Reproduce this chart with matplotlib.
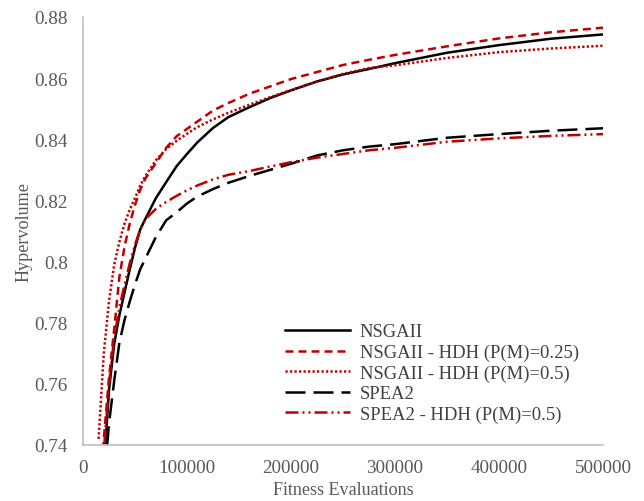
import matplotlib
matplotlib.use("Agg")
from matplotlib import pyplot as plt

# fitness evaluations (shared x grid)
evals = [15000, 20000, 25000, 30000, 35000, 40000, 45000, 50000, 55000, 60000,
         70000, 80000, 90000, 100000, 110000, 125000, 140000, 160000, 180000, 200000,
         225000, 250000, 275000, 300000, 350000, 400000, 450000, 500000]

nsgaii = [0.700, 0.732, 0.758, 0.773, 0.7825, 0.790, 0.7975, 0.8045, 0.8105, 0.814,
          0.8207, 0.826, 0.8312, 0.8352, 0.839, 0.8437, 0.8473, 0.8505, 0.8535, 0.856,
          0.8589, 0.8612, 0.863, 0.8649, 0.8683, 0.8708, 0.8729, 0.8743]
nsgaii_hdh_025 = [0.715, 0.742, 0.762, 0.778, 0.795, 0.805, 0.8125, 0.8185, 0.8235, 0.8272,
                  0.8322, 0.8372, 0.841, 0.8434, 0.8458, 0.8494, 0.8519, 0.8549, 0.8573, 0.8597,
                  0.862, 0.8643, 0.866, 0.8676, 0.8704, 0.873, 0.875, 0.8765]
nsgaii_hdh_05 = [0.742, 0.770, 0.787, 0.799, 0.8065, 0.8125, 0.817, 0.8208, 0.8248, 0.828,
                 0.8331, 0.8368, 0.8395, 0.8418, 0.844, 0.8465, 0.8487, 0.8513, 0.8538, 0.8561,
                 0.8589, 0.8614, 0.8633, 0.8642, 0.8666, 0.8685, 0.8697, 0.8706]
spea2 = [0.690, 0.727, 0.747, 0.761, 0.7735, 0.781, 0.787, 0.7925, 0.7975, 0.801,
         0.808, 0.8135, 0.8161, 0.819, 0.8213, 0.8237, 0.8258, 0.828, 0.830, 0.832,
         0.8347, 0.8364, 0.8376, 0.8384, 0.8405, 0.8417, 0.8428, 0.8436]
spea2_hdh_05 = [0.705, 0.738, 0.760, 0.775, 0.785, 0.7925, 0.7995, 0.8055, 0.8105, 0.8139,
                0.8172, 0.8195, 0.8215, 0.8233, 0.8249, 0.8269, 0.8284, 0.8296, 0.8311, 0.8325,
                0.834, 0.8352, 0.8364, 0.8372, 0.8392, 0.8403, 0.8411, 0.8417]

labels = ["NSGAII", "NSGAII - HDH (P(M)=0.25)", "NSGAII - HDH (P(M)=0.5)",
          "SPEA2", "SPEA2 - HDH (P(M)=0.5)"]
xticks = [0, 100000, 200000, 300000, 400000, 500000]
yticks = [0.74, 0.76, 0.78, 0.80, 0.82, 0.84, 0.86, 0.88]
ytick_labels = ["0.74", "0.76", "0.78", "0.8", "0.82", "0.84", "0.86", "0.88"]

plt.rcParams['font.family'] = ['Liberation Serif', 'DejaVu Serif']

red = "#C00000"
gray = "#595959"
lw = 1.8

fig = plt.figure(figsize=(6.44, 5.02), dpi=100)
ax = fig.add_axes([83 / 644, 56 / 502, 520 / 644, 428 / 502])

ax.plot(evals, nsgaii, color="black", lw=lw, linestyle="-", label=labels[0])
ax.plot(evals, nsgaii_hdh_025, color=red, lw=lw, linestyle=(0, (3.2, 2.0)), label=labels[1])
ax.plot(evals, nsgaii_hdh_05, color=red, lw=lw, linestyle=(0, (0.9, 0.9)), label=labels[2])
ax.plot(evals, spea2, color="black", lw=lw, linestyle=(0, (8, 3.2)), label=labels[3])
ax.plot(evals, spea2_hdh_05, color=red, lw=lw,
        linestyle=(0, (5.2, 1.6, 0.8, 1.6, 0.8, 1.6)), label=labels[4])

ax.set_xlim(0, 500000)
ax.set_ylim(0.74, 0.88)
ax.set_xticks(xticks)
ax.set_xticklabels([str(t) for t in xticks])
ax.set_yticks(yticks)
ax.set_yticklabels(ytick_labels)
ax.tick_params(length=0, labelsize=13.8, labelcolor=gray)
ax.tick_params(axis="x", pad=10)
ax.tick_params(axis="y", pad=11)

for side in ["top", "right"]:
    ax.spines[side].set_visible(False)
for side in ["left", "bottom"]:
    ax.spines[side].set_color("#BFBFBF")
    ax.spines[side].set_linewidth(1.2)

ax.set_xlabel("Fitness Evaluations", fontsize=13.1, color=gray, labelpad=4)
ax.set_ylabel("Hypervolume", fontsize=13.1, color=gray, labelpad=1)

leg = ax.legend(loc="upper left", bbox_to_anchor=(0.388, 0.284), frameon=False,
                fontsize=13.4, handlelength=3.5, handletextpad=0.53,
                labelspacing=0.18, borderpad=0, borderaxespad=0)
for t in leg.get_texts():
    t.set_color("#404040")

fig.savefig("out.png", dpi=100)
